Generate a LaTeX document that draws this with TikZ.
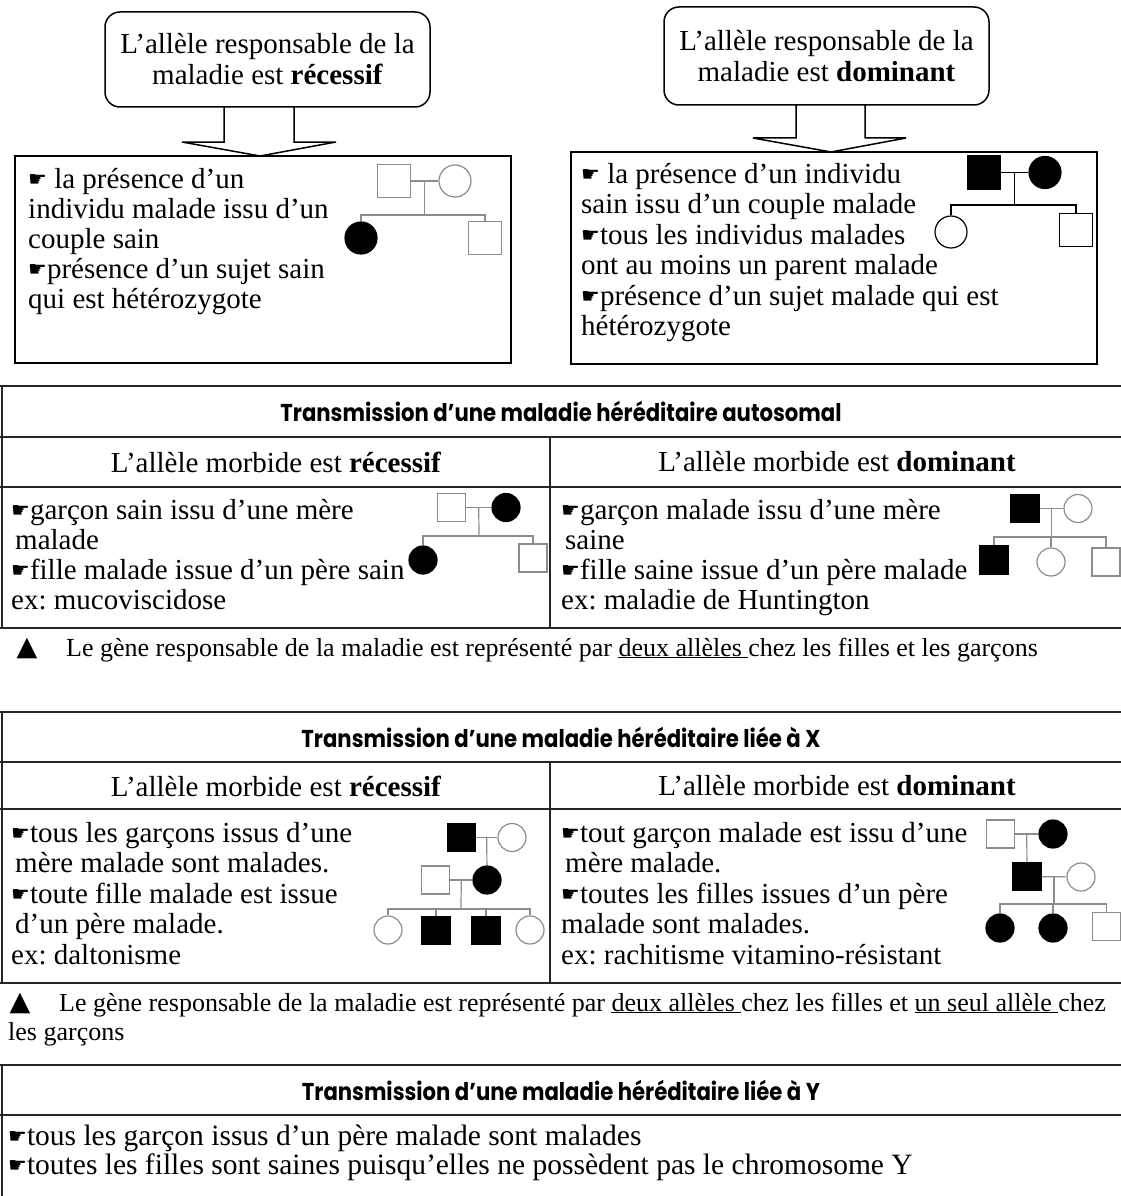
\documentclass[tikz,border=0pt]{standalone}
\usepackage{fontspec}
\setmainfont{Liberation Serif}
\newfontfamily\symfont{DejaVu Sans}
\newfontfamily\titlefont{Poppins}
\usetikzlibrary{calc}
\frenchspacing
\newcommand{\hand}{\raisebox{2pt}{\symfont\fontsize{21}{21}\selectfont ☛}}
\newcommand{\heading}[1]{\scalebox{1}[1.15]{#1}}
\tikzset{
  txt/.style={anchor=north west, inner sep=0pt, align=left,
    font=\fontsize{29}{30}\selectfont, execute at begin node=\strut},
  note/.style={anchor=base west, inner sep=0pt, font=\fontsize{26}{28}\selectfont},
  tri/.style={inner sep=0pt, font=\symfont\fontsize{27}{27}\selectfont},
  head/.style={inner sep=0pt, font=\fontsize{29}{30}\selectfont},
  title/.style={inner sep=0pt, font=\titlefont\bfseries\fontsize{21.2}{21}\selectfont},
  rbox/.style={draw, line width=1.5pt, rounded corners=15pt, align=center,
    minimum width=325pt, minimum height=95pt, font=\fontsize{29}{31}\selectfont},
  box/.style={draw, line width=1.6pt, inner sep=0pt},
  barrow/.style={line width=1.5pt, line join=miter},
  rule/.style={draw=black!85, line width=2pt},
  male/.style={rectangle, draw=black!45, line width=1.2pt, minimum size=33pt, inner sep=0pt},
  female/.style={circle, draw=black!45, line width=1.2pt, minimum size=32pt, inner sep=0pt},
  small/.style={minimum size=28pt},
  ill/.style={fill=black, draw=black},
  kin/.style={black!45, line width=1.2pt}
}
\begin{document}
\begin{tikzpicture}[x=1pt,y=-1pt]
  \useasboundingbox (0,0) rectangle (1121,1196);
  % the two rules at the top
  \node[rbox] (qrec) at (267.5,59.5) {L’allèle responsable de la\\maladie est \textbf{récessif}};
  \node[rbox, minimum height=98pt] (qdom) at (826.5,56) {L’allèle responsable de la\\maladie est \textbf{dominant}};
  \node[box, minimum width=496pt, minimum height=207pt] (brec) at (263,259.5) {};
  \node[box, minimum width=526pt, minimum height=212pt] (bdom) at (834,258) {};
  \draw[barrow] (224,107) -- (224,142) -- (182,142) -- (260,156) -- (336,142) -- (294,142) -- (294,107);
  \draw[barrow] (796,105) -- (796,138) -- (753,138) -- (831,152) -- (906,138) -- (865,138) -- (865,105);
  \node[txt] (trec) at (28,168) {\hand\ la présence d’un\\individu malade issu d’un\\couple sain\\\hand présence d’un sujet sain\\qui est hétérozygote};
  \node[txt, font=\fontsize{29}{30.5}\selectfont] (tdom) at (581,163) {\hand\ la présence d’un individu\\sain issu d’un couple malade\\\hand tous les individus malades\\ont au moins un parent malade\\\hand présence d’un sujet malade qui est\\hétérozygote};
  % pedigree: healthy couple, sick daughter
  \node[male] (p1f) at (394,181) {};
  \node[female] (p1m) at (455,181) {};
  \node[female, ill] (p1d) at (361,238) {};
  \node[male] (p1s) at (485,238) {};
  \coordinate (p1j) at (424.5,215);
  \draw[kin] (p1f) -- (p1m);
  \draw[kin] ($(p1f)!.5!(p1m)$) -- (p1j);
  \draw[kin] (p1d) |- (p1j) -| (p1s);
  % pedigree: sick couple, healthy children
  \node[male, ill] (p2f) at (984,172.5) {};
  \node[female, ill] (p2m) at (1045,172.5) {};
  \node[female, draw=black] (p2d) at (951,232) {};
  \node[male, draw=black] (p2s) at (1076,230) {};
  \coordinate (p2j) at (1014.5,205);
  \draw[kin, black] (p2f) -- (p2m);
  \draw[kin, black] ($(p2f)!.5!(p2m)$) -- (p2j);
  \draw[kin, black] (p2d) |- (p2j) -| (p2s);
  % table lines
  \foreach \y in {386,437,487,628,712,762,809,983,1065,1115}
    {\draw[rule] (0,\y) -- (1121,\y);}
  \draw[rule] (1.5,386) -- (1.5,628);
  \draw[rule] (550,437) -- (550,628);
  \draw[rule] (1.5,712) -- (1.5,983);
  \draw[rule] (550,762) -- (550,983);
  \draw[rule] (1.5,1065) -- (1.5,1196);
  % autosomal
  \node[title] (ta) at (561,411.5) {\heading{Transmission d’une maladie héréditaire autosomal}};
  \node[head] (hra) at (276,462) {L’allèle morbide est \textbf{récessif}};
  \node[head] (hda) at (837,462) {L’allèle morbide est \textbf{dominant}};
  \node[txt] (ara) at (11,499) {\hand garçon sain issu d’une mère\\\hspace*{4pt}malade\\\hand fille malade issue d’un père sain\\ex: mucoviscidose};
  \node[txt] (ada) at (561,499) {\hand garçon malade issu d’une mère\\\hspace*{4pt}saine\\\hand fille saine issue d’un père malade\\ex: maladie de Huntington};
  \node[male, small] (p3f) at (451.5,507.5) {};
  \node[female, small, ill] (p3m) at (506,507.5) {};
  \node[female, small, ill] (p3d) at (423,560) {};
  \node[male, small] (p3s) at (533,558) {};
  \coordinate (p3j) at (479,536);
  \draw[kin] (p3f) -- (p3m);
  \draw[kin] ($(p3f)!.5!(p3m)$) -- (p3j);
  \draw[kin] (p3d) |- (p3j) -| (p3s);
  \node[male, small, ill] (p4f) at (1025,508.5) {};
  \node[female, small] (p4m) at (1078,508.5) {};
  \node[male, small, ill] (p4a) at (994,560) {};
  \node[female, small] (p4b) at (1051,562) {};
  \node[male, small] (p4c) at (1106,562) {};
  \coordinate (p4j) at (1051.5,537);
  \draw[kin] (p4f) -- (p4m);
  \draw[kin] ($(p4f)!.5!(p4m)$) -- (p4j);
  \draw[kin] (p4a) |- (p4j) -| (p4c);
  \draw[kin] (p4b) -- (p4b |- p4j);
  \node[tri] (tra) at (27,648) {▲};
  \node[note] (nta) at (66,656) {Le gène responsable de la maladie est représenté par \underline{deux allèles }chez les filles et les garçons};
  % linked to X
  \node[title] (tx) at (561,737) {\heading{Transmission d’une maladie héréditaire liée à X}};
  \node[head] (hrx) at (276,786) {L’allèle morbide est \textbf{récessif}};
  \node[head] (hdx) at (837,786) {L’allèle morbide est \textbf{dominant}};
  \node[txt, font=\fontsize{29}{30.5}\selectfont] (arx) at (11,822) {\hand tous les garçons issus d’une\\\hspace*{4pt}mère malade sont malades.\\\hand toute fille malade est issue\\\hspace*{4pt}d’un père malade.\\ex: daltonisme};
  \node[txt, font=\fontsize{29}{30.5}\selectfont] (adx) at (561,822) {\hand tout garçon malade est issu d’une\\\hspace*{4pt}mère malade.\\\hand toutes les filles issues d’un père\\malade sont malades.\\ex: rachitisme vitamino-résistant};
  \node[male, small, ill] (p5a) at (461.5,837.5) {};
  \node[female, small] (p5b) at (512,837.5) {};
  \node[male, small] (p5c) at (435.5,880) {};
  \node[female, small, ill] (p5d) at (487,880) {};
  \node[female, small] (p5e) at (388,930) {};
  \node[male, small, ill] (p5f) at (436,930.5) {};
  \node[male, small, ill] (p5g) at (486,930.5) {};
  \node[female, small] (p5h) at (530,930) {};
  \coordinate (p5j) at (461,909);
  \draw[kin] (p5a) -- (p5b);
  \draw[kin] ($(p5a)!.5!(p5b)$) -- (p5d);
  \draw[kin] (p5c) -- (p5d);
  \draw[kin] ($(p5c)!.5!(p5d)$) -- (p5j);
  \draw[kin] (p5e) |- (p5j) -| (p5h);
  \draw[kin] (p5f) -- (p5f |- p5j);
  \draw[kin] (p5g) -- (p5g |- p5j);
  \node[male, small] (p6a) at (1000.5,834) {};
  \node[female, small, ill] (p6b) at (1053,834) {};
  \node[male, small, ill] (p6c) at (1027,876.5) {};
  \node[female, small] (p6d) at (1081,877) {};
  \node[female, small, ill] (p6e) at (1000,928) {};
  \node[female, small, ill] (p6f) at (1053,928) {};
  \node[male, small] (p6g) at (1106.5,926.5) {};
  \coordinate (p6j) at (1054,904);
  \draw[kin] (p6a) -- (p6b);
  \draw[kin] ($(p6a)!.5!(p6b)$) -- (p6c);
  \draw[kin] (p6c) -- (p6d);
  \draw[kin] ($(p6c)!.5!(p6d)$) -- (p6j);
  \draw[kin] (p6e) |- (p6j) -| (p6g);
  \draw[kin] (p6f) -- (p6f |- p6j);
  \node[tri] (trx) at (20,1003) {▲};
  \node[note] (ntx) at (59,1011) {Le gène responsable de la maladie est représenté par \underline{deux allèles }chez les filles et \underline{un seul allèle }chez};
  \node[note] (ntx2) at (8,1040) {les garçons};
  % linked to Y
  \node[title] (ty) at (561,1090) {\heading{Transmission d’une maladie héréditaire liée à Y}};
  \node[txt, font=\fontsize{29.5}{29}\selectfont] (ay) at (8,1125) {\hand tous les garçon issus d’un père malade sont malades\\\hand toutes les filles sont saines puisqu’elles ne possèdent pas le chromosome Y};
\end{tikzpicture}
\end{document}
